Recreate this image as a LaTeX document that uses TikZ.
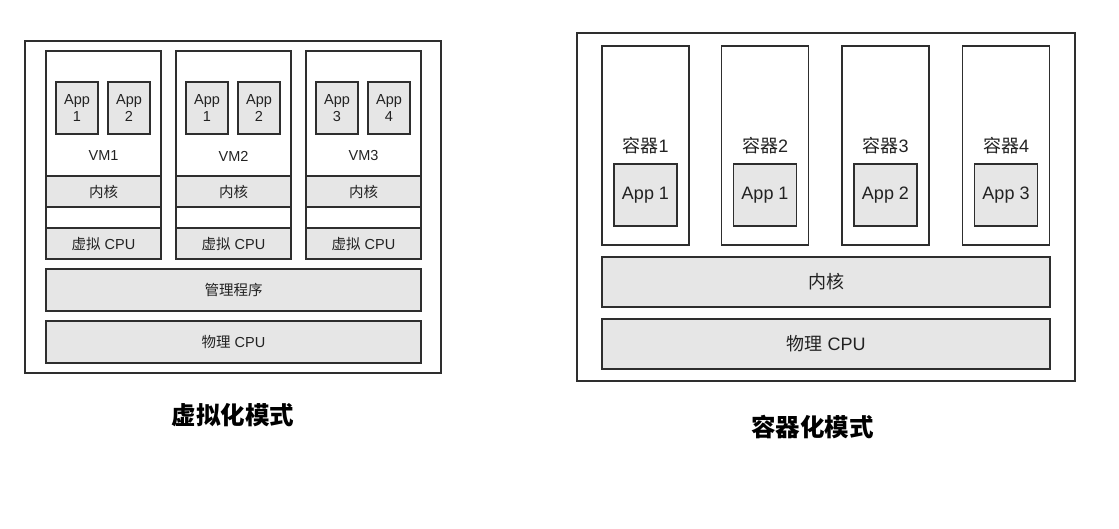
\documentclass[tikz,border=0pt]{standalone}
\usepackage{fontspec}
\setmainfont{Liberation Sans}
\newfontfamily\cjk{Noto Sans CJK SC}
\definecolor{linec}{HTML}{2E2E2E}
\definecolor{gfill}{HTML}{E6E6E6}
\definecolor{txt}{HTML}{222222}
\begin{document}
\begin{tikzpicture}[x=1pt,y=-1pt,
  box/.style={draw=linec, line width=1.2pt, inner sep=0pt, outer sep=0pt, text=txt},
  gbox/.style={box, fill=gfill},
  lsmall/.style={font=\fontsize{14.5}{16.5}\selectfont, text=txt},
  lbig/.style={font=\fontsize{18}{21}\selectfont, text=txt},
  title/.style={font=\fontsize{24.5}{27}\selectfont\cjk\bfseries, text=black}]
\useasboundingbox (0,0) rectangle (1119,529);
% ---------- left: virtualization ----------
\node[box, minimum width=416, minimum height=332] (outerL) at (233,207) {};
\foreach \i/\cx in {1/103.5,2/233.5,3/363.5}{
  \node[box, minimum width=115, minimum height=208] (vm\i) at (\cx,155) {};
  \node[gbox, lsmall, minimum width=115, minimum height=31] (k\i) at (\cx,191.5) {\cjk 内核};
  \node[gbox, lsmall, minimum width=115, minimum height=31] (v\i) at (\cx,243.5) {{\cjk 虚拟} CPU};
  \node[lsmall] (vml\i) at (\cx,156) {VM\i};
}
\node[gbox, lsmall, align=center, minimum width=42, minimum height=52] (a11) at (77,108) {App\\1};
\node[gbox, lsmall, align=center, minimum width=42, minimum height=52] (a12) at (129,108) {App\\2};
\node[gbox, lsmall, align=center, minimum width=42, minimum height=52] (a21) at (207,108) {App\\1};
\node[gbox, lsmall, align=center, minimum width=42, minimum height=52] (a22) at (259,108) {App\\2};
\node[gbox, lsmall, align=center, minimum width=42, minimum height=52] (a31) at (337,108) {App\\3};
\node[gbox, lsmall, align=center, minimum width=42, minimum height=52] (a32) at (389,108) {App\\4};
\node[gbox, lsmall, minimum width=375, minimum height=42] (hyp) at (233.5,290) {\cjk 管理程序};
\node[gbox, lsmall, minimum width=375, minimum height=42] (pcpuL) at (233.5,342) {{\cjk 物理} CPU};
\node[title] (titleL) at (233,415) {虚拟化模式};
% ---------- right: containers ----------
\node[box, minimum width=498, minimum height=348] (outerR) at (826,207) {};
\foreach \i/\cx/\app in {1/645.5/1,2/765/1,3/885.5/2,4/1006/3}{
  \node[box, minimum width=87, minimum height=199] (c\i) at (\cx,145.5) {};
  \node[lbig] (cl\i) at (\cx,146) {{\cjk 容器}\i};
  \node[gbox, lbig, minimum width=63, minimum height=62] (ca\i) at (\cx,195) {App \app};
}
\node[gbox, lbig, minimum width=448, minimum height=50] (kR) at (826,282) {\cjk 内核};
\node[gbox, lbig, minimum width=448, minimum height=50] (pcpuR) at (826,344) {{\cjk 物理} CPU};
\node[title] (titleR) at (812.5,427) {容器化模式};
\end{tikzpicture}
\end{document}
